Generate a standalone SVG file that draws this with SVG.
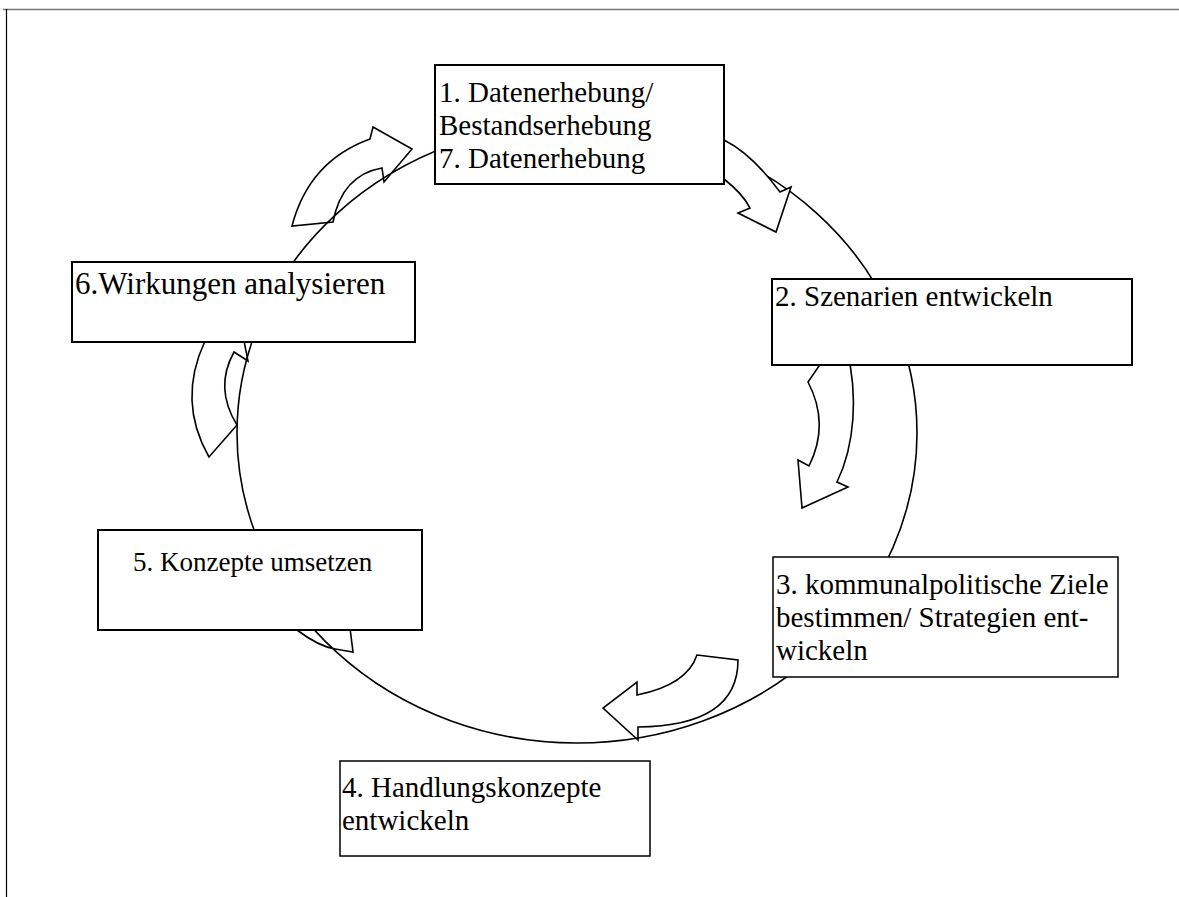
<svg xmlns="http://www.w3.org/2000/svg" width="1179" height="897" viewBox="0 0 1179 897">
<style>
.box{fill:#fff;stroke:#000;stroke-width:2}
.thin{stroke-width:1.5}
.lbl{font-family:"Liberation Serif","Times New Roman",serif;font-size:29px;fill:#000}
.arr{fill:#fff;stroke:#000;stroke-width:1.6;stroke-linejoin:miter}
.ring{fill:none;stroke:#000;stroke-width:1.6}
</style>
<rect width="1179" height="897" fill="#fff"/>
<line x1="3" y1="9.5" x2="1179" y2="9.5" stroke="#777" stroke-width="1.5"/>
<line x1="6.5" y1="9" x2="6.5" y2="897" stroke="#000" stroke-width="1.2"/>
<g id="connectors">
<path class="arr" d="M209,457 Q177,401 205,341 L207,320 L240,320 L244,341 L248,361 L234,352 Q214,388 237,425 Z"/>
<path class="arr" d="M292,226 Q309,161 370,139 L373,127 L412,149 L384,182 L382,168 Q342,175 333,222 Z"/>
<path class="arr" d="M830,350 L808,382 Q830,424 809,466 L798,460 L802,508 L848,487 L837,482 C855,445 858,395 847,350 Z"/>
<path class="arr" d="M697,655 L738,660 Q738,726 638,727 L638,740 L603,708 L637,682 L637,695 Q687,685 697,655 Z"/>
<path class="arr" d="M290,620 L297,630 Q318,646 335,649 L353,652 L349,620 Z"/>
<ellipse class="ring" cx="577" cy="433" rx="340" ry="310"/>
<path class="arr" d="M700,132 L724,140 Q752,154 780,192 L791,187 L776,232 L738,213 L750,208 Q743,194 724,179 L700,175 Z"/>
</g>
<g id="n1">
<rect class="box" x="435" y="65" width="289" height="119"/>
<text class="lbl" x="439" y="102">1. Datenerhebung/</text>
<text class="lbl" x="439" y="135">Bestandserhebung</text>
<text class="lbl" x="439" y="168">7. Datenerhebung</text>
</g>
<g id="n2">
<rect class="box" x="772" y="279" width="360" height="86"/>
<text class="lbl" x="775" y="306">2. Szenarien entwickeln</text>
</g>
<g id="n3">
<rect class="box thin" x="773" y="557" width="345" height="120"/>
<text class="lbl" x="776" y="594">3. kommunalpolitische Ziele</text>
<text class="lbl" x="776" y="627">bestimmen/ Strategien ent-</text>
<text class="lbl" x="776" y="660">wickeln</text>
</g>
<g id="n4">
<rect class="box thin" x="340" y="761" width="310" height="95"/>
<text class="lbl" x="342" y="797">4. Handlungskonzepte</text>
<text class="lbl" x="342" y="830">entwickeln</text>
</g>
<g id="n5">
<rect class="box" x="98" y="530" width="324" height="100"/>
<text class="lbl" x="133" y="571" style="font-size:27px">5. Konzepte umsetzen</text>
</g>
<g id="n6">
<rect class="box" x="72" y="262" width="343" height="80"/>
<text class="lbl" x="75" y="294" style="font-size:31px">6.Wirkungen analysieren</text>
</g>
</svg>
